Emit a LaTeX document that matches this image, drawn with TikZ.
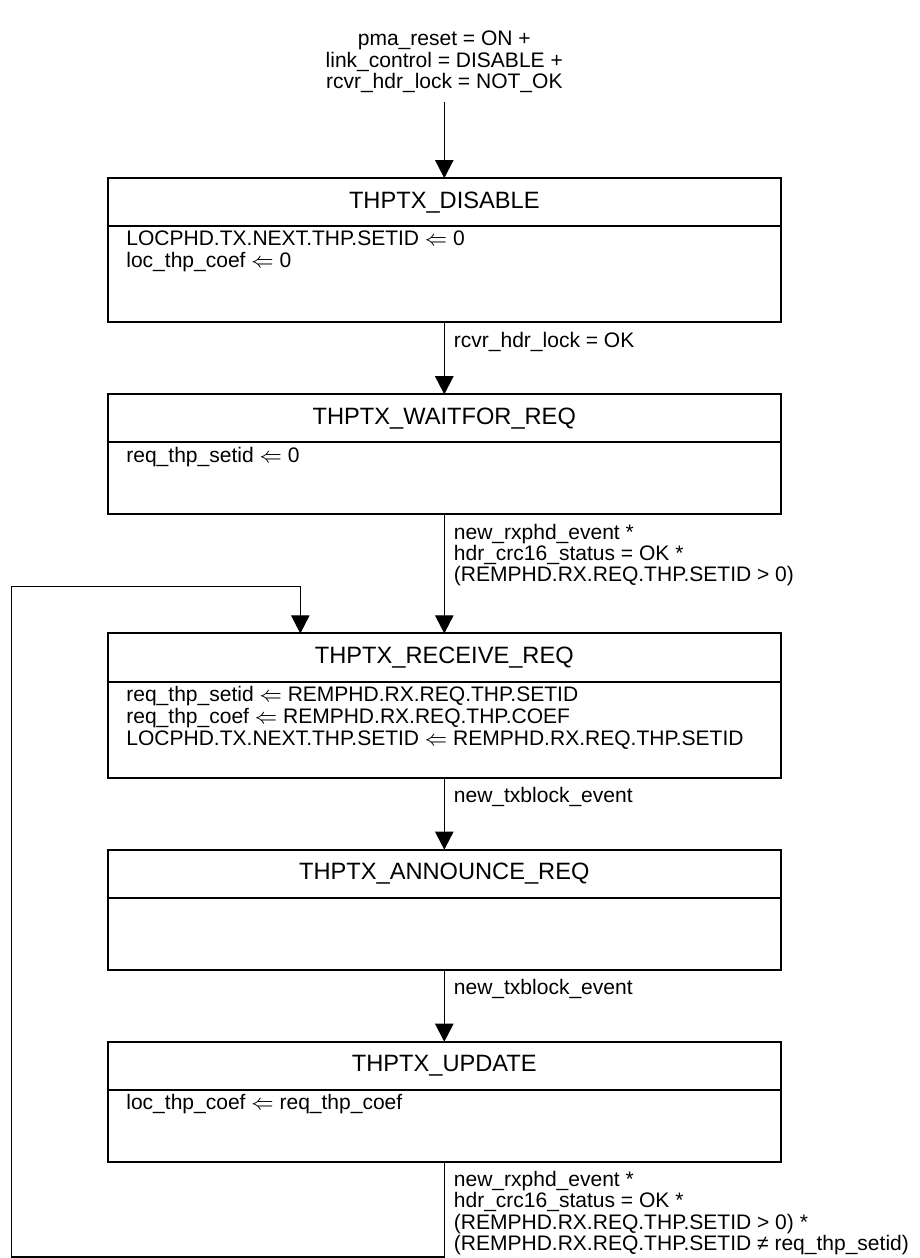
\documentclass[tikz,border=0pt]{standalone}
\usepackage{fontspec}
\setmainfont{Liberation Sans}
\usetikzlibrary{arrows.meta, positioning}

\newcommand{\actlist}[2]{\parbox[c][#1][t]{242pt}{\fontsize{8}{8.4}\selectfont\raggedright #2}}

\begin{document}
\begin{tikzpicture}[
    node distance=27.4pt,
    font=\fontsize{8}{8.1}\selectfont,
    statehead/.style={draw, line width=0.75pt, outer sep=0pt, inner sep=0pt,
        minimum width=256pt, minimum height=18.3pt, font=\fontsize{9}{10}\selectfont},
    statebody/.style={draw, line width=0.75pt, outer sep=0pt, inner xsep=7pt, inner ysep=1.8pt,
        minimum width=256pt},
    cond/.style={anchor=north west, align=left, inner sep=3.4pt},
    >={Triangle[length=6.9pt, width=7pt]},
    every path/.append style={line width=0.5pt}
]

   % States
   \node[statehead] (disable) {THPTX\_DISABLE};
   \node[statebody, below=0pt of disable] (disable-b)
      {\actlist{33pt}{LOCPHD.TX.NEXT.THP.SETID $\Leftarrow$ 0\\loc\_thp\_coef $\Leftarrow$ 0}};

   \node[statehead, below=of disable-b] (waitfor) {THPTX\_WAITFOR\_REQ};
   \node[statebody, below=0pt of waitfor] (waitfor-b)
      {\actlist{23.8pt}{req\_thp\_setid $\Leftarrow$ 0}};

   \node[statehead, below=45.3pt of waitfor-b] (receive) {THPTX\_RECEIVE\_REQ};
   \node[statebody, below=0pt of receive] (receive-b)
      {\actlist{33pt}{req\_thp\_setid $\Leftarrow$ REMPHD.RX.REQ.THP.SETID\\
        req\_thp\_coef $\Leftarrow$ REMPHD.RX.REQ.THP.COEF\\
        LOCPHD.TX.NEXT.THP.SETID $\Leftarrow$ REMPHD.RX.REQ.THP.SETID}};

   \node[statehead, below=of receive-b] (announce) {THPTX\_ANNOUNCE\_REQ};
   \node[statebody, below=0pt of announce] (announce-b) {\actlist{23.8pt}{}};

   \node[statehead, below=of announce-b] (update) {THPTX\_UPDATE};
   \node[statebody, below=0pt of update] (update-b)
      {\actlist{23.8pt}{loc\_thp\_coef $\Leftarrow$ req\_thp\_coef}};

   % Global entry condition
   \node[align=center, above=29pt of disable] (reset)
      {pma\_reset = ON +\\link\_control = DISABLE +\\rcvr\_hdr\_lock = NOT\_OK};

   \useasboundingbox ([xshift=-41.1pt, yshift=67.8pt]disable.north west)
      rectangle ([xshift=53pt, yshift=-36.6pt]update-b.south east);

   % Transitions
   \draw[->] (reset) -- (disable);
   \draw[->] (disable-b) -- node[cond, at start] {rcvr\_hdr\_lock = OK} (waitfor);
   \draw[->] (waitfor-b) -- node[cond, at start]
      {new\_rxphd\_event *\\hdr\_crc16\_status = OK *\\(REMPHD.RX.REQ.THP.SETID > 0)} (receive);
   \draw[->] (receive-b) -- node[cond, at start] {new\_txblock\_event} (announce);
   \draw[->] (announce-b) -- node[cond, at start] {new\_txblock\_event} (update);

   % back to THPTX_RECEIVE_REQ
   \coordinate (loopin) at ([xshift=73.2pt]receive.north west);
   \coordinate (loopcorner) at ([xshift=-36.6pt, yshift=17.9pt]receive.north west);
   \draw[->] (update-b.south) -- node[cond, at start]
      {new\_rxphd\_event *\\hdr\_crc16\_status = OK *\\(REMPHD.RX.REQ.THP.SETID > 0) *\\(REMPHD.RX.REQ.THP.SETID ≠ req\_thp\_setid)}
      ++(0,-36.2pt) -| (loopcorner) -| (loopin);
\end{tikzpicture}
\end{document}
